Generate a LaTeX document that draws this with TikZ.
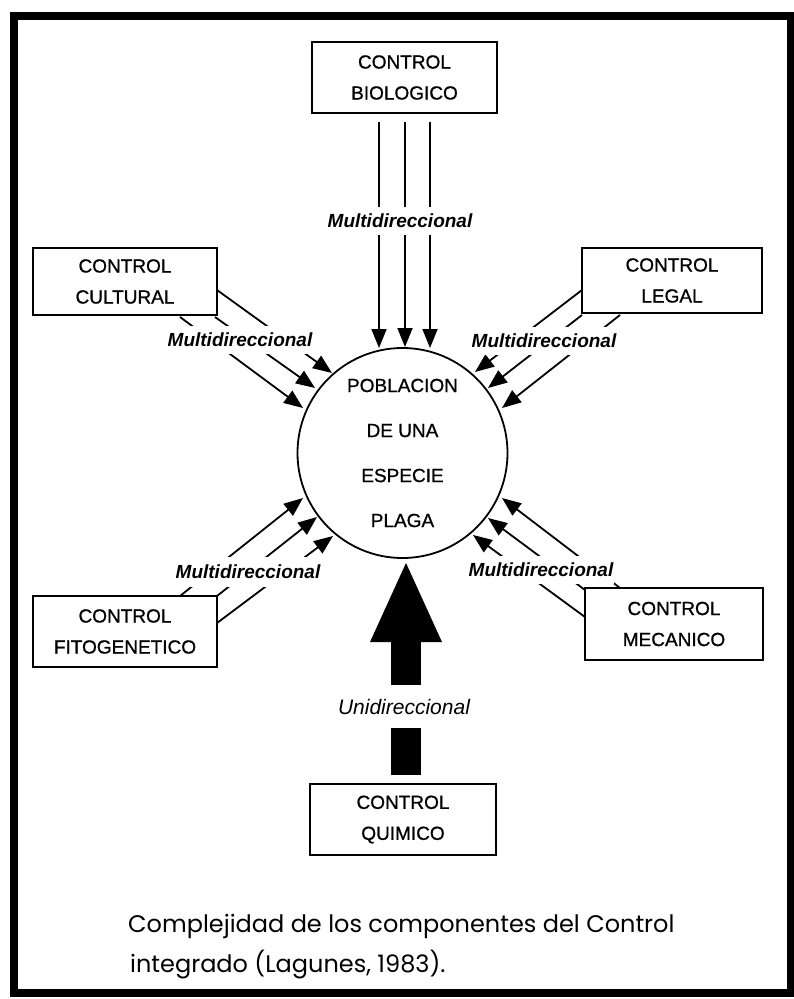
\documentclass[tikz,border=0pt]{standalone}
\usepackage{fontspec}
\setmainfont{Liberation Sans}
\newfontfamily\boxfont[FakeBold=0.9]{Liberation Sans}
\newfontfamily\capfont{Poppins}
\usetikzlibrary{arrows.meta}
\begin{document}
\begin{tikzpicture}[x=1pt,y=-1pt,
  ctrlbox/.style={draw, line width=1.8pt, align=center, inner sep=0pt,
    font=\boxfont\fontsize{19}{31}\selectfont},
  multilbl/.style={fill=white, inner xsep=1pt, inner ysep=0pt, minimum height=28pt,
    font=\fontsize{19}{20}\selectfont\bfseries\itshape},
  thinarrow/.style={line width=1.8pt, -{Triangle[length=19pt,width=15pt]}},
  bigarrow/.style={line width=30pt, -{Triangle[length=79pt,width=72pt,line width=0pt]}},
]
\useasboundingbox (0,0) rectangle (794,999);
\draw[line width=8pt] (13.5,16) rectangle (790.5,993);

% boxes
\node[ctrlbox, minimum width=185pt, minimum height=71pt] (bio) at (404.5,77.5) {CONTROL\\BIOLOGICO};
\node[ctrlbox, minimum width=184pt, minimum height=67pt] (cul) at (125,281.5) {CONTROL\\CULTURAL};
\node[ctrlbox, minimum width=180pt, minimum height=65pt] (leg) at (672,280.5) {CONTROL\\LEGAL};
\node[ctrlbox, minimum width=184pt, minimum height=71pt] (fit) at (125,631.5) {CONTROL\\FITOGENETICO};
\node[ctrlbox, minimum width=178pt, minimum height=72pt] (mec) at (674,624) {CONTROL\\MECANICO};
\node[ctrlbox, minimum width=186pt, minimum height=71pt] (qui) at (403,819.5) {CONTROL\\QUIMICO};

% central circle
\node[draw, circle, line width=1.8pt, minimum size=210pt, inner sep=0pt, align=center,
  font=\boxfont\fontsize{19}{45}\selectfont] (pob) at (402.5,453) {POBLACION\\DE UNA\\ESPECIE\\PLAGA};

% arrow end coordinates
\coordinate (b1s) at (379,122); \coordinate (b1e) at (379,348);
\coordinate (b2s) at (405,122); \coordinate (b2e) at (405,347);
\coordinate (b3s) at (430,122); \coordinate (b3e) at (430,348);

\coordinate (c1s) at (217,290); \coordinate (c1e) at (332,373);
\coordinate (c2s) at (215,317); \coordinate (c2e) at (315,388);
\coordinate (c3s) at (180,317); \coordinate (c3e) at (303,408);

\coordinate (l1s) at (582,290); \coordinate (l1e) at (475,372);
\coordinate (l2s) at (582,315); \coordinate (l2e) at (488,388);
\coordinate (l3s) at (620,315); \coordinate (l3e) at (502,408);

\coordinate (f1s) at (180,596); \coordinate (f1e) at (303,498);
\coordinate (f2s) at (217,596); \coordinate (f2e) at (317,517);
\coordinate (f3s) at (217,623); \coordinate (f3e) at (333,536);

\coordinate (m1s) at (620,588); \coordinate (m1e) at (502,498);
\coordinate (m2s) at (585,590); \coordinate (m2e) at (488,518);
\coordinate (m3s) at (585,617); \coordinate (m3e) at (473,535);

\coordinate (qs) at (406,775); \coordinate (qe) at (406,563);

\foreach \p in {b,c,l,f,m}{
  \foreach \i in {1,2,3}{
    \draw[thinarrow] (\p\i s) -- (\p\i e);
  }
}
\draw[bigarrow] (qs) -- (qe);

% labels
\node[multilbl] (lb) at (400,221) {Multidireccional};
\node[multilbl] (lc) at (240,340) {Multidireccional};
\node[multilbl] (ll) at (544,341) {Multidireccional};
\node[multilbl, minimum height=30pt] (lf) at (248,572) {Multidireccional};
\node[multilbl] (lm) at (541,570) {Multidireccional};
\node[fill=white, inner xsep=2pt, inner ysep=0pt, minimum height=43pt,
  font=\fontsize{21}{22}\selectfont\itshape] (lq) at (404,706.5) {Unidireccional};

% caption
\node[anchor=base west, inner sep=0pt, font=\capfont\fontsize{24}{26}\selectfont] (cap1) at (128,932)
  {Complejidad de los componentes del Control};
\node[anchor=base west, inner sep=0pt, font=\capfont\fontsize{24}{26}\selectfont] (cap2) at (130,972)
  {integrado (Lagunes, 1983).};
\end{tikzpicture}
\end{document}
